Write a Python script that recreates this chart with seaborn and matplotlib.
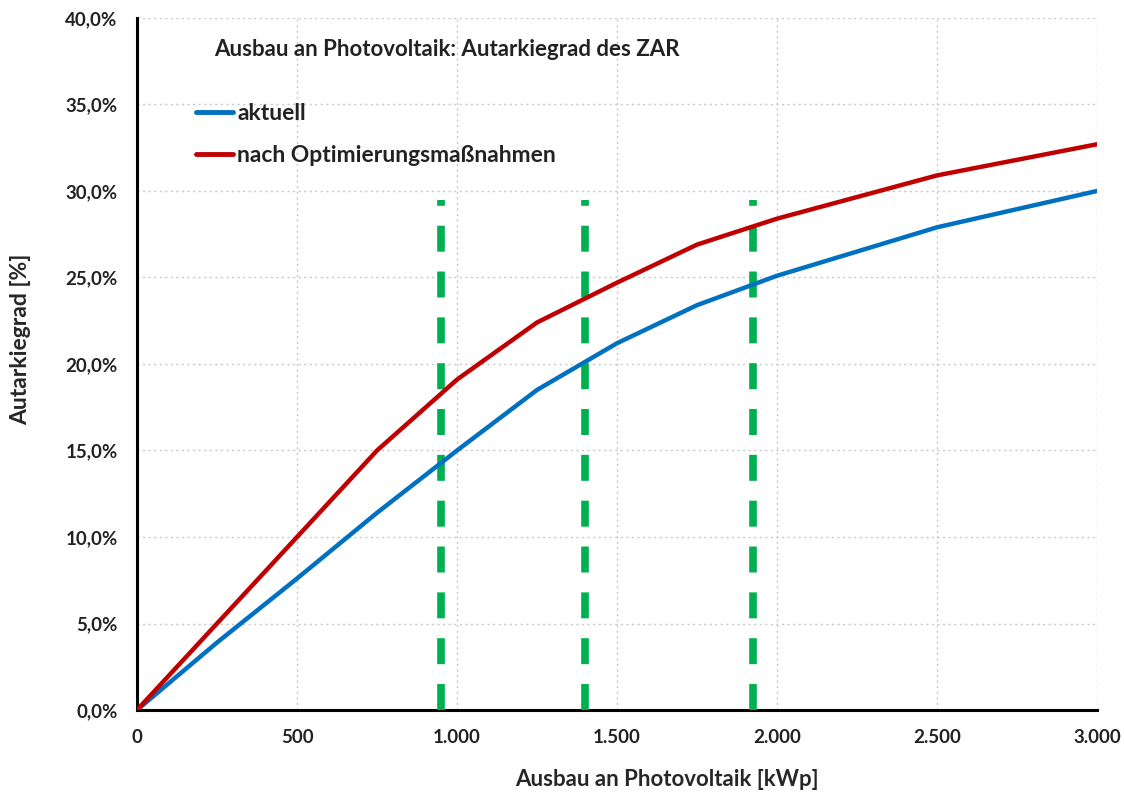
import matplotlib
matplotlib.use("Agg")
import matplotlib.pyplot as plt
import matplotlib.ticker as mticker
import seaborn as sns
import pandas as pd

# data
ausbau_kwp = [0, 250, 500, 750, 1000, 1250, 1500, 1750, 2000, 2500, 3000]
aktuell = [0.0, 3.9, 7.6, 11.4, 15.0, 18.5, 21.2, 23.4, 25.1, 27.9, 30.0]
optimiert = [0.0, 5.0, 10.0, 15.0, 19.1, 22.4, 24.7, 26.9, 28.4, 30.9, 32.7]
marker_kwp = [950, 1400, 1925]
marker_top = 29.5

series_names = ["aktuell", "nach Optimierungsmaßnahmen"]
colors = ["#0070C0", "#C00000"]

df = pd.DataFrame({
    "kWp": ausbau_kwp * 2,
    "Autarkiegrad": aktuell + optimiert,
    "Serie": [series_names[0]] * len(ausbau_kwp) + [series_names[1]] * len(ausbau_kwp),
})

sns.set_style("white")
plt.rcParams["font.family"] = ["Lato", "DejaVu Sans"]

fig = plt.figure(figsize=(11.24, 7.95), dpi=100)
ax = fig.add_axes([0.1219, 0.1069, 0.8541, 0.8705])

for xv in marker_kwp:
    ax.plot([xv, xv], [0, marker_top], color="#00B050", lw=5.5,
            dashes=(3.4, 2.6), zorder=3, solid_capstyle="butt")

sns.lineplot(data=df, x="kWp", y="Autarkiegrad", hue="Serie",
             palette=colors, linewidth=3.2, ax=ax, zorder=4)

ax.set_xlim(0, 3000)
ax.set_ylim(0, 40)
ax.xaxis.set_major_locator(mticker.MultipleLocator(500))
ax.xaxis.set_minor_locator(mticker.MultipleLocator(100))
ax.yaxis.set_major_locator(mticker.MultipleLocator(5))
ax.yaxis.set_minor_locator(mticker.MultipleLocator(1))
ax.xaxis.set_major_formatter(mticker.FuncFormatter(lambda v, p: f"{int(v):,}".replace(",", ".")))
ax.yaxis.set_major_formatter(mticker.FuncFormatter(lambda v, p: f"{v:.1f}%".replace(".", ",")))

ax.grid(True, which="major", color="#C8C8C8", linestyle=(0, (1.5, 2.5)), lw=1)
for s in ["top", "right"]:
    ax.spines[s].set_visible(False)
for s in ["left", "bottom"]:
    ax.spines[s].set_color("black")
    ax.spines[s].set_linewidth(2.2)

ax.tick_params(which="major", direction="out", length=6, width=2, colors="black",
               labelsize=13.5, pad=8)
ax.tick_params(which="minor", direction="out", length=4, width=2, colors="black")
for lab in ax.get_xticklabels() + ax.get_yticklabels():
    lab.set_fontweight("bold")
    lab.set_color("#222222")

ax.set_xlabel("Ausbau an Photovoltaik [kWp]", fontsize=16, fontweight="bold", labelpad=14)
ax.xaxis.set_label_coords(0.552, -0.085)
ax.set_ylabel("Autarkiegrad [%]", fontsize=16.5, fontweight="bold")
ax.yaxis.set_label_coords(-0.11, 0.535)

ax.text(0.08, 0.955, "Ausbau an Photovoltaik: Autarkiegrad des ZAR", transform=ax.transAxes,
        fontsize=16, fontweight="bold", va="center", ha="left", color="#222222")

leg = ax.legend(loc="upper left", bbox_to_anchor=(0.052, 0.891), frameon=False,
                fontsize=16.5, handlelength=1.6, handletextpad=0.2, labelspacing=0.95,
                borderaxespad=0)
for t in leg.get_texts():
    t.set_fontweight("bold")
    t.set_color("#222222")
for h in leg.get_lines():
    h.set_linewidth(3.5)

fig.savefig("out.png", dpi=100)
